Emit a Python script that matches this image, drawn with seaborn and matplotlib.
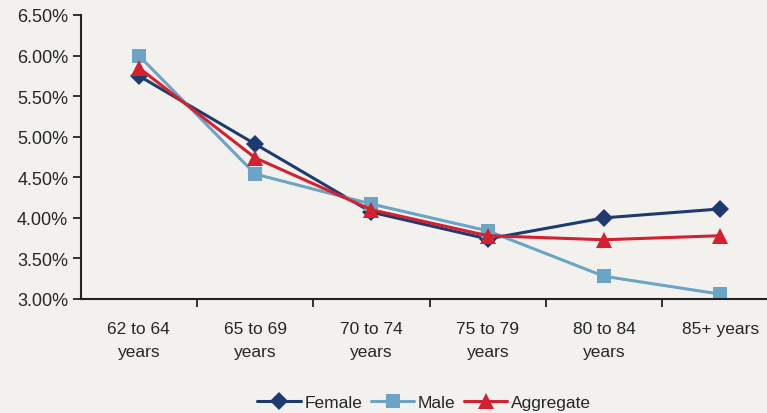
import matplotlib
matplotlib.use("Agg")
import matplotlib.pyplot as plt
import seaborn as sns
import pandas as pd
from matplotlib.ticker import FuncFormatter, FixedLocator

# Age bands and rates (%) by group
age_groups = ["62 to 64\nyears", "65 to 69\nyears", "70 to 74\nyears",
              "75 to 79\nyears", "80 to 84\nyears", "85+ years"]
female = [5.75, 4.91, 4.07, 3.74, 4.00, 4.11]
male = [6.00, 4.54, 4.17, 3.84, 3.28, 3.06]
aggregate = [5.85, 4.74, 4.10, 3.78, 3.73, 3.78]

series_names = ["Female", "Male", "Aggregate"]
colors = {"Female": "#1F3A70", "Male": "#6BA4C5", "Aggregate": "#D3212F"}
markers = {"Female": "D", "Male": "s", "Aggregate": "^"}
sizes = {"Female": 9, "Male": 10, "Aggregate": 11}

rows = []
for name, vals in zip(series_names, [female, male, aggregate]):
    for i, v in enumerate(vals):
        rows.append({"pos": i, "rate": v, "group": name})
df = pd.DataFrame(rows)

sns.set_theme(style="white")
plt.rcParams["font.family"] = ["Liberation Sans", "DejaVu Sans"]

bg = "#F2F1EE"
fig = plt.figure(figsize=(7.67, 4.14), dpi=100, facecolor=bg)
ax = fig.add_axes([80.7 / 767, 1 - 300 / 414, 697.8 / 767, 284 / 414])
ax.set_facecolor(bg)

for name in series_names:
    sub = df[df["group"] == name]
    sns.lineplot(data=sub, x="pos", y="rate", ax=ax, color=colors[name],
                 marker=markers[name], markersize=sizes[name],
                 markeredgewidth=0, linewidth=2.2, label=name, legend=False)

ax.set_xlim(-0.5, 5.5)
ax.set_ylim(3.0, 6.5)
ax.set_xlabel("")
ax.set_ylabel("")

# y axis: percent labels every 0.5
ax.set_yticks([3.0 + 0.5 * k for k in range(8)])
ax.yaxis.set_major_formatter(FuncFormatter(lambda v, p: f"{v:.2f}%"))
ax.tick_params(axis="y", direction="out", length=6, width=1.3, color="#222222",
               labelsize=13, pad=3, left=True)

# x axis: tick marks between categories, labels at category centres
ax.xaxis.set_major_locator(FixedLocator([0.5, 1.5, 2.5, 3.5, 4.5]))
ax.xaxis.set_minor_locator(FixedLocator(list(range(len(age_groups)))))
ax.set_xticklabels([], minor=False)
ax.set_xticklabels(age_groups, minor=True, fontsize=12.5, linespacing=1.65)
ax.tick_params(axis="x", which="major", direction="out", length=6, width=1.3,
               color="#222222", bottom=True)
ax.tick_params(axis="x", which="minor", length=0, pad=16)

for side in ["top", "right"]:
    ax.spines[side].set_visible(False)
for side in ["left", "bottom"]:
    ax.spines[side].set_color("#222222")
    ax.spines[side].set_linewidth(1.5)

handles, labels = ax.get_legend_handles_labels()
fig.legend(handles, labels, loc="center", bbox_to_anchor=(0.553, 0.025),
           ncol=3, frameon=False, fontsize=12.5, handlelength=2.5,
           handletextpad=0.2, columnspacing=0.5, borderaxespad=0)

fig.savefig("out.png", dpi=100, facecolor=bg)
